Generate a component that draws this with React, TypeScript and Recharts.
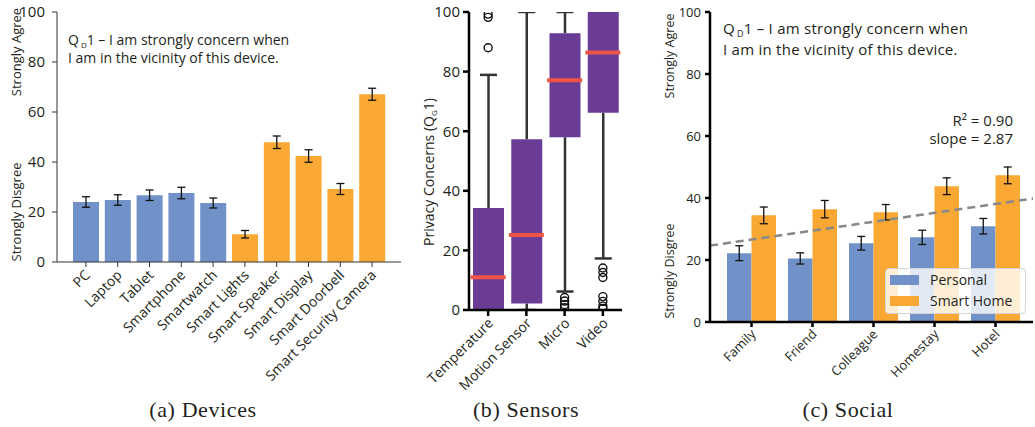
import React from 'react';
import { ComposedChart, Bar, XAxis, YAxis, ErrorBar, Cell, Scatter, Line, Legend } from 'recharts';

const FONT = '"Open Sans", sans-serif';
const SERIF = '"Liberation Serif", serif';
const TEXT = '#231f20';
const BLUE = '#7092C9';
const ORANGE = '#F9A834';
const PURPLE = '#6A3C96';
const RED = '#F05445';

// ---------- Panel (a) Devices ----------
const devices = ['PC', 'Laptop', 'Tablet', 'Smartphone', 'Smartwatch', 'Smart Lights', 'Smart Speaker', 'Smart Display', 'Smart Doorbell', 'Smart Security Camera'];
const deviceMeans = [24.0, 24.8, 26.7, 27.6, 23.6, 11.1, 47.9, 42.4, 29.2, 67.1];
const deviceErrors = [2.1, 2.1, 2.1, 2.3, 2.0, 1.5, 2.5, 2.5, 2.2, 2.4];
const deviceGroups = ['personal', 'personal', 'personal', 'personal', 'personal', 'smarthome', 'smarthome', 'smarthome', 'smarthome', 'smarthome'];

// ---------- Panel (b) Sensors ----------
const sensors = ['Temperature', 'Motion Sensor', 'Micro', 'Video'];
const sensorQ1 = [0, 2.2, 58.0, 66.2];
const sensorMedian = [11.0, 25.2, 77.1, 86.4];
const sensorQ3 = [34.2, 57.3, 92.9, 100];
const sensorWhiskerLow = [0, 0, 6.2, 17.3];
const sensorWhiskerHigh = [78.9, 100, 100, 100];
const sensorOutliers = [
  [88, 98.2, 99.3],
  [],
  [0.8, 1.8, 3.0, 4.2],
  [0.5, 1.3, 2.9, 4.5, 10.9, 12.6, 14.1],
];

// ---------- Panel (c) Social ----------
const socialContexts = ['Family', 'Friend', 'Colleague', 'Homestay', 'Hotel'];
const personalMeans = [22.2, 20.5, 25.4, 27.3, 30.9];
const personalErrors = [2.4, 1.8, 2.2, 2.3, 2.5];
const smartHomeMeans = [34.4, 36.4, 35.4, 43.8, 47.3];
const smartHomeErrors = [2.7, 2.8, 2.5, 2.7, 2.7];
const trendIntercept = 26.6;
const trendSlope = 2.87;
const trendR2 = '0.90';
const trendDomain = [-0.68, 4.61];

const yTicks = [0, 20, 40, 60, 80, 100];

const deviceData = devices.map((name, i) => ({ name, mean: deviceMeans[i], err: deviceErrors[i], group: deviceGroups[i] }));
const sensorData = sensors.map((name, i) => ({
  name,
  idx: i,
  box: [sensorQ1[i], sensorQ3[i]],
  lower: [sensorWhiskerLow[i], sensorQ1[i]],
  upper: [sensorQ3[i], sensorWhiskerHigh[i]],
  median: sensorMedian[i],
}));
const outlierData = sensorOutliers.flatMap((vals, i) => vals.map((v) => ({ idx: i, value: v })));
const socialData = socialContexts.map((name, i) => ({
  name,
  personal: personalMeans[i],
  personalErr: personalErrors[i],
  smartHome: smartHomeMeans[i],
  smartHomeErr: smartHomeErrors[i],
}));
const trendData = trendDomain.map((x) => ({ x, y: trendIntercept + trendSlope * x }));

const RotTick = (props: any) => {
  const { x, y, payload, fontSize, dx = 4, dy = 8 } = props;
  const tx = x + dx;
  const ty = y + dy;
  return (
    <text x={tx} y={ty} textAnchor="end" fontSize={fontSize} fontFamily={FONT} fill={TEXT} transform={`rotate(-45 ${tx} ${ty})`}>
      {payload.value}
    </text>
  );
};

const UpperWhisker = (props: any) => {
  const { x, y, width, height } = props;
  if (x == null || y == null) return <g />;
  const cx = x + width / 2;
  return (
    <g stroke="#333" strokeWidth={2.5}>
      <line x1={cx} y1={y} x2={cx} y2={y + height} />
      <line x1={x} y1={y} x2={x + width} y2={y} />
    </g>
  );
};
const LowerWhisker = (props: any) => {
  const { x, y, width, height } = props;
  if (x == null || y == null) return <g />;
  const cx = x + width / 2;
  return (
    <g stroke="#333" strokeWidth={2.5}>
      <line x1={cx} y1={y} x2={cx} y2={y + height} />
      <line x1={x} y1={y + height} x2={x + width} y2={y + height} />
    </g>
  );
};
const MedianLine = (props: any) => {
  const { cx, cy } = props;
  return <line x1={cx - 17.5} x2={cx + 17.5} y1={cy} y2={cy} stroke={RED} strokeWidth={4} />;
};
const OutlierDot = (props: any) => {
  const { cx, cy } = props;
  return <circle cx={cx} cy={cy} r={4} fill="none" stroke="#111" strokeWidth={1.4} />;
};

const SocialLegend = (props: any) => {
  const items = (props.payload || []).filter((p: any) => p.value === 'Personal' || p.value === 'Smart Home');
  return (
    <div style={{ width: 139, height: 44, background: 'rgba(255,255,255,0.8)', border: '1px solid #d4d4d4', borderRadius: 4, fontFamily: FONT, fontSize: 14, color: TEXT, position: 'relative' }}>
      {items.map((p: any, i: number) => (
        <div key={p.value} style={{ position: 'absolute', left: 4, top: 5 + i * 21, height: 12, display: 'flex', alignItems: 'center' }}>
          <div style={{ width: 29, height: 10, background: p.color }} />
          <span style={{ marginLeft: 11, lineHeight: '12px', whiteSpace: 'nowrap' }}>{p.value}</span>
        </div>
      ))}
    </div>
  );
};

const tickStyleA = { fontSize: 15, fontFamily: FONT, fill: TEXT };
const tickStyleB = { fontSize: 15, fontFamily: FONT, fill: TEXT };
const tickStyleC = { fontSize: 13, fontFamily: FONT, fill: TEXT };

export default function App() {
  return (
    <div style={{ position: 'absolute', left: 0, top: 0, width: 1035, height: 427, background: '#fff', overflow: 'hidden' }}>
      {/* Panel a */}
      <div style={{ position: 'absolute', left: 0, top: 0 }}>
        <ComposedChart width={410} height={427} data={deviceData} margin={{ top: 12, right: 9, left: 7, bottom: 77 }}>
          <XAxis dataKey="name" interval={0} height={88} padding={{ left: 13, right: 13 }} tickSize={5}
            axisLine={{ stroke: '#333', strokeWidth: 1 }} tickLine={{ stroke: '#333' }}
            tick={<RotTick fontSize={14} dx={5} dy={7} />} />
          <XAxis xAxisId="top" orientation="top" height={0} tick={false} tickLine={false} axisLine={{ stroke: '#333', strokeWidth: 1 }} />
          <YAxis domain={[0, 100]} ticks={yTicks} width={50} tickSize={5} tickMargin={7}
            axisLine={{ stroke: '#333', strokeWidth: 1 }} tickLine={{ stroke: '#333' }} tick={tickStyleA} />
          <YAxis yAxisId="right" orientation="right" domain={[0, 100]} width={0} tick={false} tickLine={false} axisLine={{ stroke: '#333', strokeWidth: 1 }} />
          <Bar dataKey="mean" barSize={26} isAnimationActive={false}>
            {deviceData.map((d) => (
              <Cell key={d.name} fill={d.group === 'personal' ? BLUE : ORANGE} />
            ))}
            <ErrorBar dataKey="err" width={4} stroke="#111" strokeWidth={1.3} />
          </Bar>
        </ComposedChart>
      </div>

      {/* Panel b */}
      <div style={{ position: 'absolute', left: 400, top: 0 }}>
        <ComposedChart width={232} height={427} data={sensorData} margin={{ top: 12, right: 10, left: 29, bottom: 27 }}>
          <XAxis dataKey="name" interval={0} height={90} tickSize={6}
            axisLine={{ stroke: '#000', strokeWidth: 2.5 }} tickLine={{ stroke: '#000', strokeWidth: 2.5 }}
            tick={<RotTick fontSize={14} dx={6} dy={6} />} />
          <XAxis xAxisId="wl" dataKey="name" hide />
          <XAxis xAxisId="wu" dataKey="name" hide />
          <XAxis xAxisId="num" dataKey="idx" type="number" domain={[-0.5, 3.5]} allowDataOverflow hide />
          <XAxis xAxisId="top" orientation="top" height={0} tick={false} tickLine={false} axisLine={{ stroke: '#000', strokeWidth: 2.5 }} />
          <YAxis domain={[0, 100]} ticks={yTicks} width={40} tickSize={6} tickMargin={3} allowDataOverflow
            axisLine={{ stroke: '#000', strokeWidth: 2.5 }} tickLine={{ stroke: '#000', strokeWidth: 2.5 }} tick={tickStyleB} />
          <YAxis yAxisId="right" orientation="right" domain={[0, 100]} width={0} tick={false} tickLine={false} axisLine={{ stroke: '#000', strokeWidth: 2.5 }} />
          <Bar xAxisId="wl" dataKey="lower" barSize={17} shape={LowerWhisker} isAnimationActive={false} />
          <Bar xAxisId="wu" dataKey="upper" barSize={17} shape={UpperWhisker} isAnimationActive={false} />
          <Bar dataKey="box" barSize={31} fill={PURPLE} isAnimationActive={false} />
          <Scatter xAxisId="num" dataKey="median" shape={MedianLine} isAnimationActive={false} />
          <Scatter xAxisId="num" data={outlierData} dataKey="value" shape={OutlierDot} isAnimationActive={false} />
        </ComposedChart>
      </div>

      {/* Panel c */}
      <div style={{ position: 'absolute', left: 630, top: 0 }}>
        <ComposedChart width={405} height={427} data={socialData} margin={{ top: 12, right: 2, left: 40, bottom: 25 }} barGap={0}>
          <XAxis dataKey="name" interval={0} height={80} padding={{ left: 11, right: 7 }} tickSize={5}
            axisLine={{ stroke: '#000', strokeWidth: 2.5 }} tickLine={{ stroke: '#000', strokeWidth: 2.5 }}
            tick={<RotTick fontSize={13} dx={5} dy={6} />} />
          <XAxis xAxisId="trend" dataKey="x" type="number" domain={trendDomain} allowDataOverflow hide />
          <XAxis xAxisId="top" orientation="top" height={0} tick={false} tickLine={false} axisLine={{ stroke: '#000', strokeWidth: 2.5 }} />
          <YAxis domain={[0, 100]} ticks={yTicks} width={40} tickSize={5} tickMargin={4} allowDataOverflow
            axisLine={{ stroke: '#000', strokeWidth: 2.5 }} tickLine={{ stroke: '#000', strokeWidth: 2.5 }} tick={tickStyleC} />
          <YAxis yAxisId="right" orientation="right" domain={[0, 100]} width={0} tick={false} tickLine={false} axisLine={{ stroke: '#000', strokeWidth: 2.5 }} />
          <Bar dataKey="personal" name="Personal" fill={BLUE} barSize={24.5} isAnimationActive={false}>
            <ErrorBar dataKey="personalErr" width={4} stroke="#111" strokeWidth={1.3} />
          </Bar>
          <Bar dataKey="smartHome" name="Smart Home" fill={ORANGE} barSize={24.5} isAnimationActive={false}>
            <ErrorBar dataKey="smartHomeErr" width={4} stroke="#111" strokeWidth={1.3} />
          </Bar>
          <Line xAxisId="trend" data={trendData} dataKey="y" stroke="#888" strokeWidth={2.5} strokeDasharray="8 5" dot={false} legendType="none" isAnimationActive={false} />
          <Legend layout="vertical" align="center" verticalAlign="middle" content={<SocialLegend />}
            wrapperStyle={{ left: 255, top: 268, width: 141, height: 46 }} />
        </ComposedChart>
      </div>

      {/* Annotations and captions */}
      <svg width={1035} height={427} style={{ position: 'absolute', left: 0, top: 0, pointerEvents: 'none' }}>
        <g fontFamily={FONT} fill={TEXT}>
          {/* panel a */}
          <text x={68} y={45} fontSize={14}>
            <tspan>Q</tspan><tspan fontSize={8} dx={2} dy={3}>D</tspan><tspan dy={-3}>1 – I am strongly concern when</tspan>
          </text>
          <text x={68} y={63} fontSize={14}>I am in the vicinity of this device.</text>
          <text x={21} y={52} fontSize={13} textAnchor="middle" transform="rotate(-90 21 52)">Strongly Agree</text>
          <text x={21} y={212} fontSize={13} textAnchor="middle" transform="rotate(-90 21 212)">Strongly Disgree</text>
          {/* panel b */}
          <text x={434} y={172} fontSize={14} textAnchor="middle" transform="rotate(-90 434 172)">
            <tspan>Privacy Concerns (Q</tspan><tspan fontSize={8} dy={3}>G</tspan><tspan dy={-3}>1)</tspan>
          </text>
          {/* panel c */}
          <text x={723} y={34} fontSize={15} letterSpacing={0.25}>
            <tspan>Q</tspan><tspan fontSize={9} dx={2} dy={3}>D</tspan><tspan dy={-3}>1 – I am strongly concern when</tspan>
          </text>
          <text x={723} y={55} fontSize={15} letterSpacing={0.25}>I am in the vicinity of this device.</text>
          <text x={1013} y={126} fontSize={15} textAnchor="end">{`R² = ${trendR2}`}</text>
          <text x={1013} y={144} fontSize={15} textAnchor="end">slope = {trendSlope.toFixed(2)}</text>
          <text x={674} y={56} fontSize={12.5} textAnchor="middle" transform="rotate(-90 674 56)">Strongly Agree</text>
          <text x={674} y={271} fontSize={12.5} textAnchor="middle" transform="rotate(-90 674 271)">Strongly Disgree</text>
        </g>
        <g fontFamily={SERIF} fill={TEXT} fontSize={22} letterSpacing={0.6} textAnchor="middle">
          <text x={203} y={417}>(a) Devices</text>
          <text x={526} y={417}>(b) Sensors</text>
          <text x={848} y={417}>(c) Social</text>
        </g>
      </svg>
    </div>
  );
}
